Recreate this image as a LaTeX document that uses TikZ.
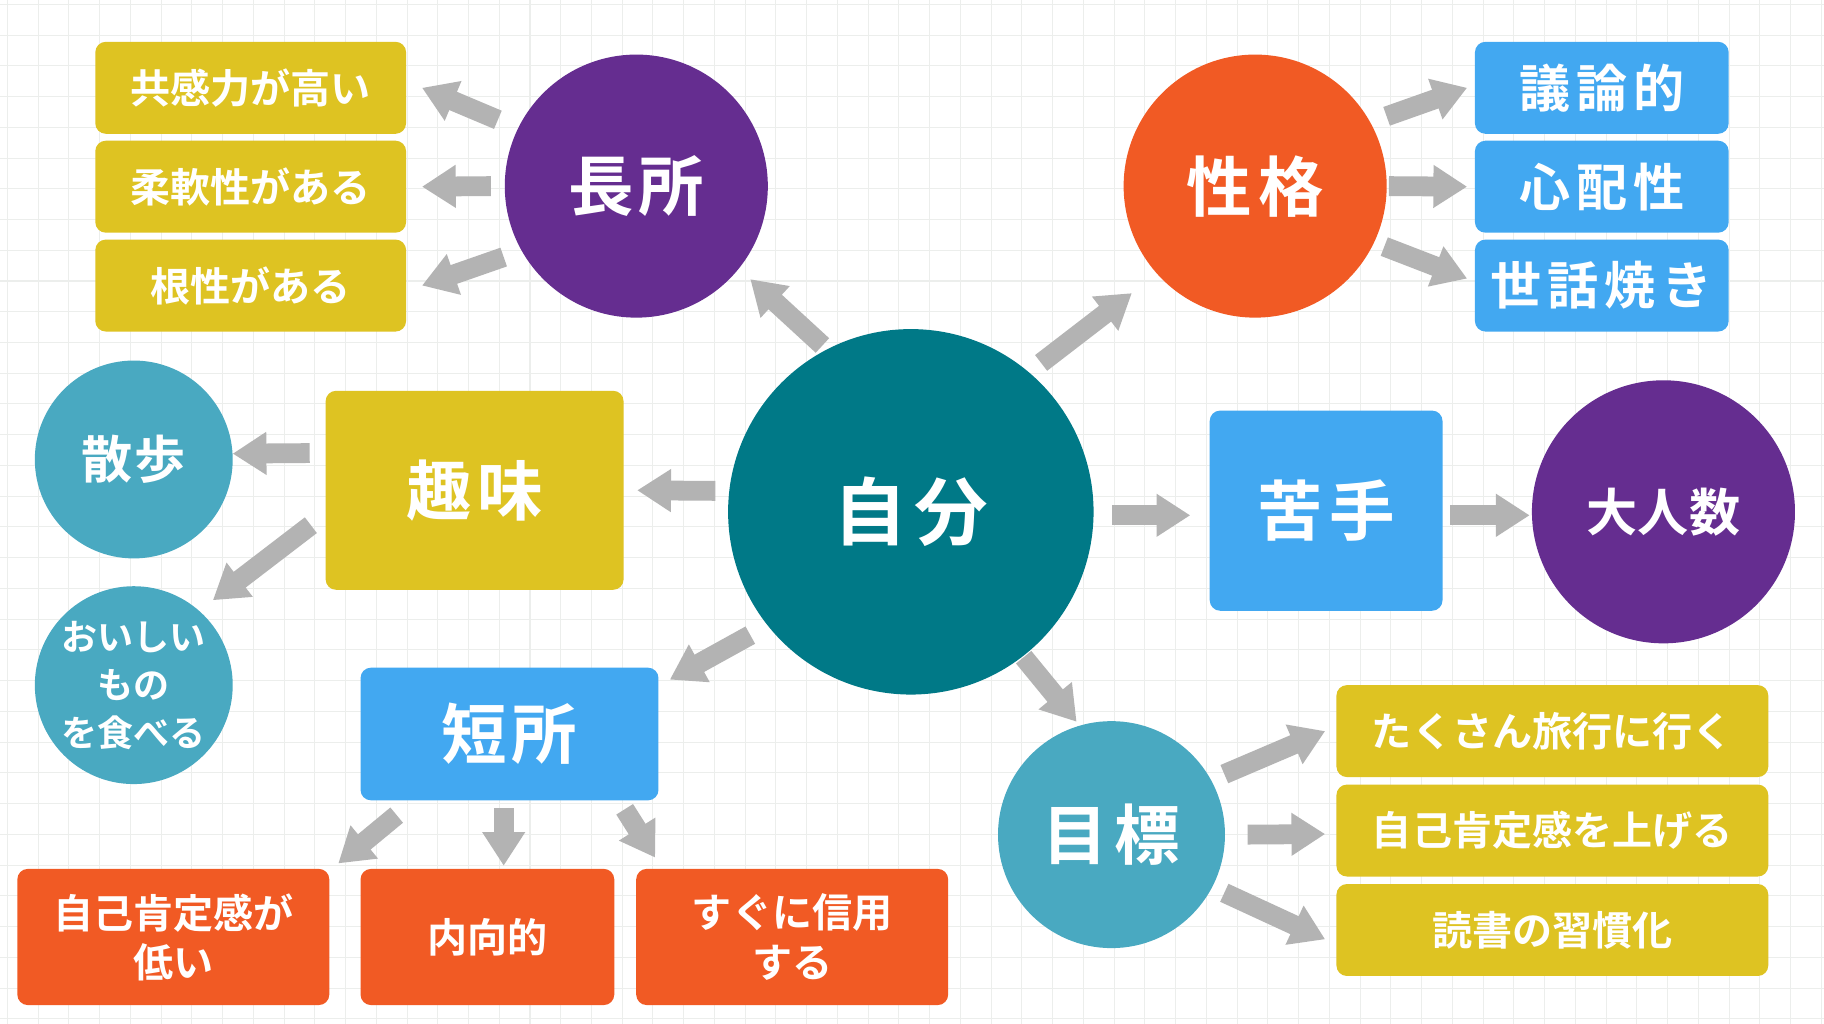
\documentclass[tikz,border=0pt]{standalone}
\usepackage{fontspec}
\setmainfont{Noto Sans CJK JP}[BoldFont={Noto Sans CJK JP Bold}]
\usetikzlibrary{arrows.meta,calc}
\definecolor{cpurple}{HTML}{652D90}
\definecolor{corange}{HTML}{F15A24}
\definecolor{cyellow}{HTML}{DEC322}
\definecolor{cblue}{HTML}{42A8F1}
\definecolor{cteal}{HTML}{007987}
\definecolor{clteal}{HTML}{49A9C1}
\definecolor{agrey}{HTML}{B3B3B3}
\definecolor{gridc}{HTML}{ECEEEC}
\begin{document}
\begin{tikzpicture}[x=0.01cm,y=-0.01cm,
  circ/.style={circle, inner sep=0pt, text=white, align=center},
  rbox/.style={rectangle, rounded corners=0.09cm, inner sep=0pt, text=white, align=center},
  bigtxt/.style={font=\bfseries\fontsize{16pt}{18pt}\selectfont},
  midtxt/.style={font=\bfseries\fontsize{12.5pt}{15pt}\selectfont},
  smalltxt/.style={font=\bfseries\fontsize{9.8pt}{12pt}\selectfont},
  tinytxt/.style={font=\bfseries\fontsize{8.8pt}{11.7pt}\selectfont},
  gline/.style={draw=gridc, line width=0.25pt},
  blk/.style={draw=agrey, line width=0.17cm, line cap=butt, -{Triangle[length=0.29cm,width=0.35cm]}}]
\useasboundingbox (0,0) rectangle (1568,880);
\fill[white] (0,0) rectangle (1568,880);
\foreach \i in {0,...,59} \draw[gline] ({6.3+26.43*\i},0) -- ({6.3+26.43*\i},880);
\foreach \j in {0,...,33} \draw[gline] (0,{3.7+26.43*\j}) -- (1568,{3.7+26.43*\j});

% main circles
\node[circ, fill=cteal, minimum size=3.14cm, font=\bfseries\fontsize{18pt}{20pt}\selectfont] (jibun) at (783,440) {自\hspace{0.07cm}分};
\node[circ, fill=cpurple, minimum size=2.26cm, bigtxt] (chosho) at (547,160) {長\hspace{0.04cm}所};
\node[circ, fill=corange, minimum size=2.26cm, bigtxt] (seikaku) at (1079,160) {性\hspace{0.06cm}格};
\node[circ, fill=cpurple, minimum size=2.26cm, midtxt] (oninzu) at (1430,440) {大人数};
\node[circ, fill=clteal, minimum size=1.95cm, bigtxt] (mokuhyo) at (955.5,717.5) {目\hspace{0.06cm}標};
\node[circ, fill=clteal, minimum size=1.70cm, font=\bfseries\fontsize{12.5pt}{15pt}\selectfont] (sanpo) at (115,395) {散\hspace{0.02cm}歩};
\node[circ, fill=clteal, minimum size=1.70cm, tinytxt] (oishii) at (115,589) {おいしい\\もの\\を食べる};

% boxes
\node[rbox, fill=cyellow, minimum width=2.56cm, minimum height=1.71cm, bigtxt] (shumi) at (408,421.5) {趣\hspace{0.05cm}味};
\node[rbox, fill=cblue, minimum width=2.56cm, minimum height=1.14cm, bigtxt] (tansho) at (438,631) {短\hspace{0.04cm}所};
\node[rbox, fill=cblue, minimum width=2.00cm, minimum height=1.72cm, bigtxt] (nigate) at (1140,439) {苦\hspace{0.06cm}手};

\node[rbox, fill=cyellow, minimum width=2.67cm, minimum height=0.79cm, smalltxt] (c1) at (215.5,75.5) {共感力が高い};
\node[rbox, fill=cyellow, minimum width=2.67cm, minimum height=0.79cm, smalltxt] (c2) at (215.5,160.5) {柔軟性がある};
\node[rbox, fill=cyellow, minimum width=2.67cm, minimum height=0.79cm, smalltxt] (c3) at (215.5,245.5) {根性がある};

\node[rbox, fill=cblue, minimum width=2.18cm, minimum height=0.79cm, midtxt] (s1) at (1377,75.5) {議\hspace{0.05cm}論\hspace{0.05cm}的};
\node[rbox, fill=cblue, minimum width=2.18cm, minimum height=0.79cm, midtxt] (s2) at (1377,160.5) {心\hspace{0.05cm}配\hspace{0.05cm}性};
\node[rbox, fill=cblue, minimum width=2.18cm, minimum height=0.79cm, midtxt] (s3) at (1377,245.5) {世\hspace{0.05cm}話\hspace{0.05cm}焼\hspace{0.05cm}き};

\node[rbox, fill=corange, minimum width=2.68cm, minimum height=1.17cm, smalltxt] (t1) at (149,805.5) {自己肯定感が\\低い};
\node[rbox, fill=corange, minimum width=2.18cm, minimum height=1.17cm, smalltxt] (t2) at (419,805.5) {内向的};
\node[rbox, fill=corange, minimum width=2.68cm, minimum height=1.17cm, smalltxt] (t3) at (681,805.5) {すぐに信用\\する};

\node[rbox, fill=cyellow, minimum width=3.71cm, minimum height=0.79cm, smalltxt] (g1) at (1334.5,628.5) {たくさん旅行に行く};
\node[rbox, fill=cyellow, minimum width=3.71cm, minimum height=0.79cm, smalltxt] (g2) at (1334.5,714) {自己肯定感を上げる};
\node[rbox, fill=cyellow, minimum width=3.71cm, minimum height=0.79cm, smalltxt] (g3) at (1334.5,799.5) {読書の習慣化};

% arrows
\draw[blk] ($(chosho.center)+(-119,-57)$) -- ($(c1.east)+(13,0)$);
\draw[blk] ($(chosho.center)+(-125,0)$) -- ($(c2.east)+(13,0)$);
\draw[blk] ($(chosho.center)+(-114,61)$) -- ($(c3.east)+(13,0)$);

\draw[blk] ($(seikaku.center)+(113,-60)$) -- ($(s1.west)+(-6,0)$);
\draw[blk] ($(seikaku.center)+(115,0)$) -- ($(s2.west)+(-6,0)$);
\draw[blk] ($(seikaku.center)+(111,52)$) -- ($(s3.west)+(-6,-6)$);

\draw[blk] ($(jibun.center)+(-76,-143)$) -- ($(chosho.center)+(98,80)$);
\draw[blk] ($(jibun.center)+(112,-128)$) -- ($(seikaku.center)+(-106,92)$);
\draw[blk] ($(jibun.center)+(-168,-18)$) -- ($(shumi.east)+(11,0)$);

\draw[blk] ($(shumi.west)+(-13,-32)$) -- ($(sanpo.center)+(85,-5)$);
\draw[blk] ($(shumi.west)+(-12,30)$) -- ($(oishii.center)+(68,-73)$);

\draw[blk] ($(jibun.center)+(-138,106)$) -- ($(tansho.north east)+(9,11)$);
\draw[blk] ($(tansho.south)+(-97,12)$) -- ($(t1.north east)+(7,-4)$);
\draw[blk] ($(tansho.south)+(-5,6)$) -- ($(t2.north)+(14,-2)$);
\draw[blk] ($(tansho.south)+(99,7)$) -- ($(t3.north west)+(17,-9)$);

\draw[blk] ($(jibun.center)+(173,3)$) -- ($(nigate.west)+(-16,4)$);
\draw[blk] ($(nigate.east)+(6,4)$) -- ($(oninzu.center)+(-115,3)$);

\draw[blk] ($(jibun.center)+(97,125)$) -- ($(mokuhyo.center)+(-30,-97)$);
\draw[blk] ($(mokuhyo.center)+(97,-52)$) -- ($(g1.west)+(-9,0)$);
\draw[blk] ($(mokuhyo.center)+(117,0)$) -- ($(g2.west)+(-9,3)$);
\draw[blk] ($(mokuhyo.center)+(97,50)$) -- ($(g3.west)+(-9,8)$);
\end{tikzpicture}
\end{document}
